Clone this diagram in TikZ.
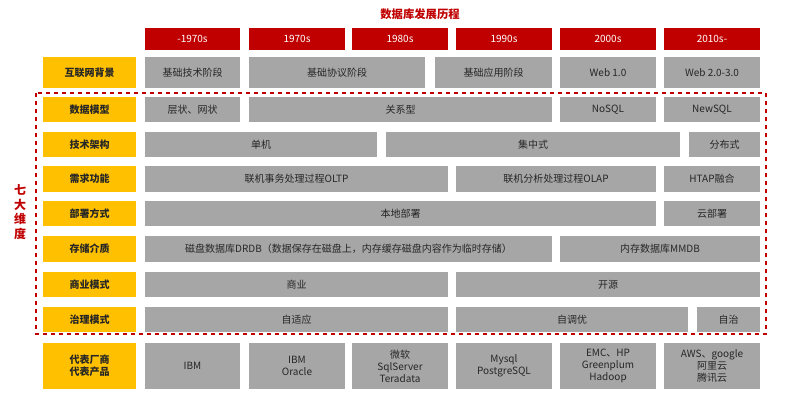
\documentclass[tikz,border=0pt]{standalone}
\usepackage{fontspec}
\setmainfont{Noto Sans CJK SC}
\usetikzlibrary{positioning}
\definecolor{hdred}{HTML}{C00000}
\definecolor{tagyellow}{HTML}{FFC000}
\definecolor{cellgray}{HTML}{A6A6A6}
\tikzset{
  cellbox/.style={rectangle, fill=cellgray, inner sep=0pt, font=\fontsize{7.5}{9}\selectfont, align=center, text=black!85},
  hdbox/.style={cellbox, fill=hdred, text=white},
  tagbox/.style={cellbox, fill=tagyellow, font=\bfseries\fontsize{7.5}{9}\selectfont}
}
% #1 style, #2 name, #3 x1, #4 y1, #5 x2, #6 y2, #7 text
\newcommand\gcell[7]{\node[#1, minimum width={(#5-#3)*0.75pt}, minimum height={(#6-#4)*0.75pt}] (#2) at ({(#3+#5)/2},{(#4+#6)/2}) {#7};}
\begin{document}
\begin{tikzpicture}[x=0.75pt,y=-0.75pt]
  \useasboundingbox (0,0) rectangle (786,405);
  % Title
  \node[text=hdred, font=\bfseries\fontsize{8.5}{10}\selectfont] (title) at (420,14) {数据库发展历程};

  % Header row
  \gcell{hdbox}{h1}{145}{28}{240}{50}{-1970s}
  \gcell{hdbox}{h2}{249}{28}{345}{50}{1970s}
  \gcell{hdbox}{h3}{352}{28}{448}{50}{1980s}
  \gcell{hdbox}{h4}{456}{28}{552}{50}{1990s}
  \gcell{hdbox}{h5}{560}{28}{656}{50}{2000s}
  \gcell{hdbox}{h6}{664}{28}{760}{50}{2010s-}

  % Row labels
  \gcell{tagbox}{t1}{43}{57}{136}{88}{互联网背景}
  \gcell{tagbox}{t2}{43}{97}{136}{122}{数据模型}
  \gcell{tagbox}{t3}{43}{132}{136}{157}{技术架构}
  \gcell{tagbox}{t4}{43}{166}{136}{192}{需求功能}
  \gcell{tagbox}{t5}{43}{201}{136}{226}{部署方式}
  \gcell{tagbox}{t6}{43}{236}{136}{262}{存储介质}
  \gcell{tagbox}{t7}{43}{272}{136}{297}{商业模式}
  \gcell{tagbox}{t8}{43}{307}{136}{332}{治理模式}
  \gcell{tagbox}{t9}{43}{343}{136}{389}{代表厂商\\代表产品}

  % Internet background
  \gcell{cellbox}{net1}{145}{57}{240}{88}{基础技术阶段}
  \gcell{cellbox}{net2}{249}{57}{425}{88}{基础协议阶段}
  \gcell{cellbox}{net3}{435}{57}{552}{88}{基础应用阶段}
  \gcell{cellbox}{net4}{560}{57}{656}{88}{Web 1.0}
  \gcell{cellbox}{net5}{664}{57}{760}{88}{Web 2.0-3.0}

  % Data model
  \gcell{cellbox}{dm1}{145}{97}{240}{122}{层状、网状}
  \gcell{cellbox}{dm2}{249}{97}{552}{122}{关系型}
  \gcell{cellbox}{dm3}{560}{97}{656}{122}{NoSQL}
  \gcell{cellbox}{dm4}{664}{97}{760}{122}{NewSQL}

  % Architecture
  \gcell{cellbox}{ar1}{145}{132}{377}{157}{单机}
  \gcell{cellbox}{ar2}{386}{132}{680}{157}{集中式}
  \gcell{cellbox}{ar3}{689}{132}{760}{157}{分布式}

  % Function
  \gcell{cellbox}{fn1}{145}{166}{448}{192}{联机事务处理过程OLTP}
  \gcell{cellbox}{fn2}{456}{166}{656}{192}{联机分析处理过程OLAP}
  \gcell{cellbox}{fn3}{664}{166}{760}{192}{HTAP融合}

  % Deployment
  \gcell{cellbox}{dp1}{145}{201}{656}{226}{本地部署}
  \gcell{cellbox}{dp2}{664}{201}{760}{226}{云部署}

  % Storage
  \gcell{cellbox}{st1}{145}{236}{552}{262}{磁盘数据库DRDB（数据保存在磁盘上，内存缓存磁盘内容作为临时存储）}
  \gcell{cellbox}{st2}{560}{236}{760}{262}{内存数据库MMDB}

  % Business
  \gcell{cellbox}{bz1}{145}{272}{448}{297}{商业}
  \gcell{cellbox}{bz2}{456}{272}{760}{297}{开源}

  % Governance
  \gcell{cellbox}{gv1}{145}{307}{448}{332}{自适应}
  \gcell{cellbox}{gv2}{456}{307}{688}{332}{自调优}
  \gcell{cellbox}{gv3}{697}{307}{760}{332}{自治}

  % Vendors
  \gcell{cellbox}{vd1}{145}{343}{240}{389}{IBM}
  \gcell{cellbox}{vd2}{249}{343}{345}{389}{IBM\\Oracle}
  \gcell{cellbox}{vd3}{352}{343}{448}{389}{微软\\SqlServer\\Teradata}
  \gcell{cellbox}{vd4}{456}{343}{552}{389}{Mysql\\PostgreSQL}
  \gcell{cellbox}{vd5}{560}{343}{656}{389}{EMC、HP\\Greenplum\\Hadoop}
  \gcell{cellbox}{vd6}{664}{343}{760}{389}{AWS、google\\阿里云\\腾讯云}

  % Seven dimensions frame
  \draw[hdred, thick, dashed] (36,93) rectangle (766,334);
  \node[text=hdred, font=\bfseries\fontsize{9}{11}\selectfont, align=center] (dims) at (20,212) {七\\大\\维\\度};
\end{tikzpicture}
\end{document}
